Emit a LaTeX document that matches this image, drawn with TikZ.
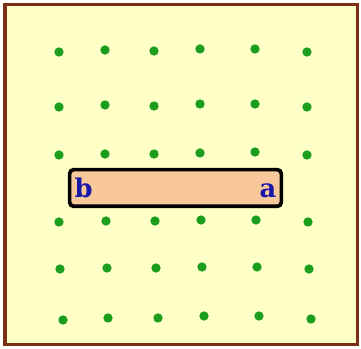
\documentclass[tikz,border=0pt]{standalone}
\usepackage{fontspec}
\usepackage{xcolor}
\newfontfamily\labelfont{DejaVu Serif}
\definecolor{paper}{HTML}{FFFFC8}
\definecolor{frame}{HTML}{7A2E14}
\definecolor{charge}{HTML}{1C9E1C}
\definecolor{rodfill}{HTML}{F8C89A}
\definecolor{letter}{HTML}{1818A8}

\begin{document}
\begin{tikzpicture}[x=0.03cm,y=-0.03cm]
\tikzset{
  dot/.style={circle,fill=charge,inner sep=0pt,minimum size=0.28cm},
  rod/.style={draw=black,line width=1.1mm,rounded corners=1.2mm,fill=rodfill},
  endlabel/.style={text=letter,font=\labelfont\fontsize{22}{24}\selectfont\bfseries,inner sep=0pt}
}
\useasboundingbox (0,0) rectangle (361,349);
\draw[fill=paper,draw=frame,line width=0.9mm] (5,4.5) rectangle (357.5,344.5);
% field points
\foreach \px/\py [count=\i] in {
  59/52, 105/50, 154/51, 200/49, 255/49, 307/52,
  59/107, 105/105, 154/106, 200/104, 255/104, 307/107,
  59/155, 105/154, 154/154, 200/153, 255/152, 307/155,
  59/222, 106/221, 155/221, 201/220, 256/220, 308/222,
  60/269, 107/268, 156/268, 202/267, 257/267, 309/269,
  63/320, 108/318, 158/318, 204/316, 259/316, 311/319}
  \node[dot] (p\i) at (\px,\py) {};
% conductor
\node[rod,minimum width=6.35cm,minimum height=1.1cm] (bar) at (175.5,188) {};
\node[endlabel,anchor=base west] (b) at ([xshift=0.2cm,yshift=-0.3cm]bar.west) {b};
\node[endlabel,anchor=base east] (a) at ([xshift=-0.2cm,yshift=-0.3cm]bar.east) {a};
\end{tikzpicture}
\end{document}
